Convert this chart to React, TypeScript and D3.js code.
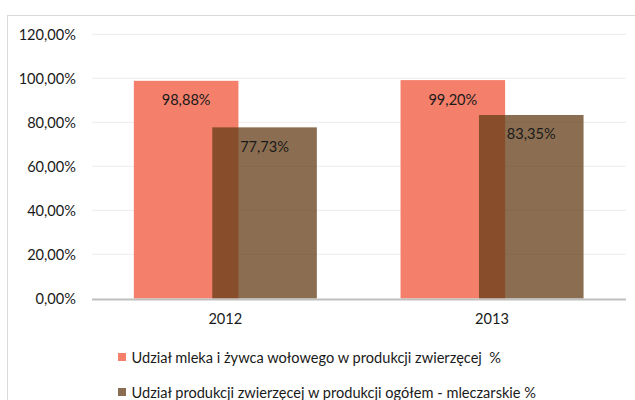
import React from "react";
import * as d3 from "d3";

const categories = ["2012", "2013"];
const seriesNames = [
  "Udział mleka i żywca wołowego w produkcji zwierzęcej  %",
  "Udział produkcji zwierzęcej w produkcji ogółem - mleczarskie %",
];
const milkShare = [98.88, 99.2];
const dairyShare = [77.73, 83.35];
const yTicks = [0, 20, 40, 60, 80, 100, 120];

const W = 635;
const H = 400;
const FONT = "Lato, 'Open Sans', sans-serif";
const FS = 14.6;

const fmt = (v: number) => v.toFixed(2).replace(".", ",") + "%";

export default function App() {
  const y = d3.scaleLinear().domain([0, 120]).range([298.5, 34.3]);
  const x = d3.scaleBand<string>().domain(categories).range([92, 625.4]).padding(0);
  const step = x.step();
  const barW = step / 2.55;
  const offset = barW * 0.75;
  const groupW = barW + offset;

  const series = [
    { name: seriesNames[0], values: milkShare, fill: "rgb(244,128,107)", opacity: 1, dx: 0 },
    { name: seriesNames[1], values: dairyShare, fill: "rgb(98,59,20)", opacity: 0.74, dx: offset },
  ];

  return (
    <svg
      width={W}
      height={H}
      style={{ position: "fixed", left: 0, top: 0, background: "#fff" }}
      fontFamily={FONT}
    >
      <rect x={7.5} y={15.5} width={W} height={H} fill="#fff" stroke="#d9d9d9" strokeWidth={1} />
      {yTicks.map((t) => (
        <g key={t}>
          {t > 0 && (
            <line x1={92} x2={626} y1={y(t)} y2={y(t)} stroke="#f0f0f0" strokeWidth={1.3} />
          )}
          <text x={76} y={y(t)} textAnchor="end" dominantBaseline="central" fontSize={FS} fill="#1a1a1a">
            {fmt(t)}
          </text>
        </g>
      ))}
      {series.map((s, si) =>
        categories.map((c, i) => {
          const x0 = (x(c) as number) + (step - groupW) / 2 + s.dx;
          const top = y(s.values[i]);
          return (
            <rect
              key={si + "-" + c}
              x={x0}
              y={top}
              width={barW}
              height={y(0) - top}
              fill={s.fill}
              fillOpacity={s.opacity}
            />
          );
        })
      )}
      {series.map((s, si) =>
        categories.map((c, i) => {
          const x0 = (x(c) as number) + (step - groupW) / 2 + s.dx;
          const top = y(s.values[i]);
          return (
            <text
              key={"l" + si + c}
              x={x0 + barW / 2}
              y={top + 19}
              textAnchor="middle"
              dominantBaseline="central"
              fontSize={FS}
              fill="#1a1a1a"
            >
              {fmt(s.values[i])}
            </text>
          );
        })
      )}
      <line x1={92} x2={626} y1={299.5} y2={299.5} stroke="#bfbfbf" strokeWidth={2} />
      {categories.map((c) => (
        <text
          key={c}
          x={(x(c) as number) + step / 2}
          y={318.5}
          textAnchor="middle"
          dominantBaseline="central"
          fontSize={FS}
          fill="#1a1a1a"
        >
          {c}
        </text>
      ))}
      {series.map((s, si) => {
        const cy = 357 + si * 35;
        return (
          <g key={"lg" + si}>
            <rect x={118} y={cy - 4} width={8} height={8} fill={s.fill} fillOpacity={s.opacity} />
            <text
              x={131.5}
              y={cy}
              dominantBaseline="central"
              fontSize={FS}
              fill="#1a1a1a"
              style={{ whiteSpace: "pre" }}
            >
              {s.name}
            </text>
          </g>
        );
      })}
    </svg>
  );
}
